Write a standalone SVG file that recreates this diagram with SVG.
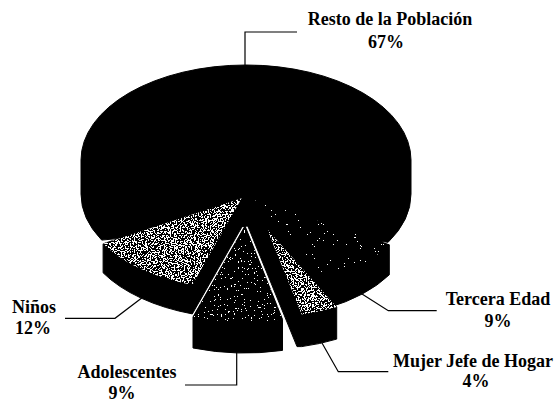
<svg xmlns="http://www.w3.org/2000/svg" width="556" height="402" viewBox="0 0 556 402">
<style>
.body{fill:#000;stroke:#000;stroke-width:1;stroke-linejoin:round}
.lbl{font-family:"Liberation Serif","Times New Roman",serif;font-weight:bold;font-size:18px;fill:#000;text-anchor:middle}
.lead{fill:none;stroke:#000;stroke-width:1.2}
</style>
<defs>
<filter id="spkLight" x="0" y="0" width="1" height="1" color-interpolation-filters="sRGB">
<feTurbulence type="fractalNoise" baseFrequency="0.7" numOctaves="2" seed="4" result="n"/>
<feColorMatrix in="n" type="matrix" values="1 0 0 0 0  1 0 0 0 0  1 0 0 0 0  0 0 0 0 1" result="g"/>
<feComponentTransfer in="g" result="b">
<feFuncR type="discrete" tableValues="0 0 0 0 0 0 0 0 0 0 0 0 0 1 1 1 1 1 1 1 1 1 1 1 1"/>
<feFuncG type="discrete" tableValues="0 0 0 0 0 0 0 0 0 0 0 0 0 1 1 1 1 1 1 1 1 1 1 1 1"/>
<feFuncB type="discrete" tableValues="0 0 0 0 0 0 0 0 0 0 0 0 0 1 1 1 1 1 1 1 1 1 1 1 1"/>
</feComponentTransfer>
<feComposite in="b" in2="SourceAlpha" operator="in"/>
</filter>
<filter id="spkDark" x="0" y="0" width="1" height="1" color-interpolation-filters="sRGB">
<feTurbulence type="fractalNoise" baseFrequency="0.7" numOctaves="2" seed="9" result="n"/>
<feColorMatrix in="n" type="matrix" values="1 0 0 0 0  1 0 0 0 0  1 0 0 0 0  0 0 0 0 1" result="g"/>
<feComponentTransfer in="g" result="b">
<feFuncR type="discrete" tableValues="0 0 0 0 0 0 0 0 0 0 0 0 0 0 1 1 1 1 1 1"/>
<feFuncG type="discrete" tableValues="0 0 0 0 0 0 0 0 0 0 0 0 0 0 1 1 1 1 1 1"/>
<feFuncB type="discrete" tableValues="0 0 0 0 0 0 0 0 0 0 0 0 0 0 1 1 1 1 1 1"/>
</feComponentTransfer>
<feComposite in="b" in2="SourceAlpha" operator="in"/>
</filter>
<filter id="spkDarker" x="0" y="0" width="1" height="1" color-interpolation-filters="sRGB">
<feTurbulence type="fractalNoise" baseFrequency="0.7" numOctaves="2" seed="13" result="n"/>
<feColorMatrix in="n" type="matrix" values="1 0 0 0 0  1 0 0 0 0  1 0 0 0 0  0 0 0 0 1" result="g"/>
<feComponentTransfer in="g" result="b">
<feFuncR type="discrete" tableValues="0 0 0 0 0 0 0 0 0 0 0 0 0 0 0 1 1 1 1 1"/>
<feFuncG type="discrete" tableValues="0 0 0 0 0 0 0 0 0 0 0 0 0 0 0 1 1 1 1 1"/>
<feFuncB type="discrete" tableValues="0 0 0 0 0 0 0 0 0 0 0 0 0 0 0 1 1 1 1 1"/>
</feComponentTransfer>
<feComposite in="b" in2="SourceAlpha" operator="in"/>
</filter>
</defs>
<rect width="556" height="402" fill="#fff"/>

<g id="resto">
<path class="body" d="M101.7,240.1 A165,95 0 0 1 81,194 L81,160 A165,95 0 0 1 411,160 L411,194 A165,95 0 0 1 388.1,242.3 L248,226 Z"/>
<text class="lbl" x="390" y="25">Resto de la Población</text>
<text class="lbl" x="386" y="48">67%</text>
</g>

<g id="ninos">
<path class="body" d="M241.7,198.3 L103.1,243.8 L103.1,272.8 A160,91 0 0 0 192.3,313.9 L241.7,227.3 Z"/>
<path filter="url(#spkLight)" fill="#fff" d="M241.7,198.3 L103.1,243.8 A160,91 0 0 0 192.3,284.9 Z"/>
<text class="lbl" x="34" y="313">Niños</text>
<text class="lbl" x="33" y="334">12%</text>
</g>

<g id="tercera">
<path class="body" d="M255,200 L389.3,244.8 L389.3,274.8 A156,88 0 0 1 327,308.1 L255,230 Z"/>
<path filter="url(#spkDarker)" fill="#000" d="M255,200 L389.3,244.8 A156,88 0 0 1 327,278.1 Z"/>
<text class="lbl" x="498" y="305">Tercera Edad</text>
<text class="lbl" x="498" y="327">9%</text>
</g>

<g id="adolescentes">
<path class="body" d="M245,226 L193,317 L193,348 A163,96 0 0 0 282.5,350.4 L282.5,319.4 Z"/>
<path filter="url(#spkDark)" fill="#000" d="M245,226 L193,317 A163,96 0 0 0 282.5,319.4 Z"/>
<text class="lbl" x="127" y="378">Adolescentes</text>
<text class="lbl" x="122" y="399">9%</text>
</g>

<g id="mujer">
<path class="body" d="M247,224 L267,229 L336.7,307.1 L336.7,339.1 A151,88 0 0 1 301.7,346.6 L297,346.6 Z"/>
<path filter="url(#spkLight)" fill="#fff" d="M267,229 L301.7,314.6 A151,88 0 0 0 336.7,307.1 Z"/>
<text class="lbl" x="473" y="367">Mujer Jefe de Hogar</text>
<text class="lbl" x="476" y="387">4%</text>
</g>

<g id="connectors">
<polyline class="lead" points="245,65 245,32 297,32"/>
<polyline class="lead" points="141.7,298 115,318.3 65,318.3"/>
<polyline class="lead" points="236.7,351 236.7,385 185,385"/>
<polyline class="lead" points="362,294 388.3,310.7 436.7,310.7"/>
<polyline class="lead" points="322,343 338.3,371.7 388.3,371.7"/>
</g>
</svg>
